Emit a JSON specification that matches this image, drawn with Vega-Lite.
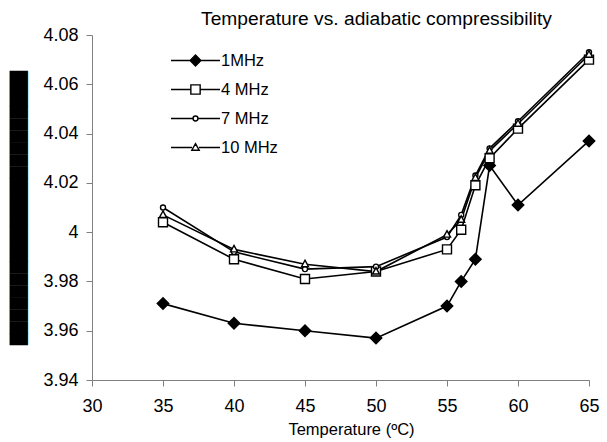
{
  "$schema": "https://vega.github.io/schema/vega-lite/v6.json",
  "width": 497,
  "height": 345,
  "autosize": "none",
  "padding": {"left": 92, "top": 35, "right": 18, "bottom": 62},
  "background": "white",
  "title": {
    "text": "Temperature vs. adiabatic compressibility",
    "font": "Liberation Sans",
    "fontSize": 19.2,
    "fontWeight": "normal",
    "color": "black",
    "anchor": "middle",
    "frame": "group",
    "dx": 36,
    "baseline": "alphabetic",
    "offset": -18
  },
  "config": {
    "view": {"stroke": null},
    "font": "Liberation Sans"
  },
  "data": {
    "values": [
      {"t": 35, "v": 3.971, "s": "1MHz"},
      {"t": 40, "v": 3.963, "s": "1MHz"},
      {"t": 45, "v": 3.960, "s": "1MHz"},
      {"t": 50, "v": 3.957, "s": "1MHz"},
      {"t": 55, "v": 3.970, "s": "1MHz"},
      {"t": 56, "v": 3.980, "s": "1MHz"},
      {"t": 57, "v": 3.989, "s": "1MHz"},
      {"t": 58, "v": 4.027, "s": "1MHz"},
      {"t": 60, "v": 4.011, "s": "1MHz"},
      {"t": 65, "v": 4.037, "s": "1MHz"},
      {"t": 35, "v": 4.004, "s": "4 MHz"},
      {"t": 40, "v": 3.989, "s": "4 MHz"},
      {"t": 45, "v": 3.981, "s": "4 MHz"},
      {"t": 50, "v": 3.984, "s": "4 MHz"},
      {"t": 55, "v": 3.993, "s": "4 MHz"},
      {"t": 56, "v": 4.001, "s": "4 MHz"},
      {"t": 57, "v": 4.019, "s": "4 MHz"},
      {"t": 58, "v": 4.030, "s": "4 MHz"},
      {"t": 60, "v": 4.042, "s": "4 MHz"},
      {"t": 65, "v": 4.070, "s": "4 MHz"},
      {"t": 35, "v": 4.010, "s": "7 MHz"},
      {"t": 40, "v": 3.992, "s": "7 MHz"},
      {"t": 45, "v": 3.985, "s": "7 MHz"},
      {"t": 50, "v": 3.986, "s": "7 MHz"},
      {"t": 55, "v": 3.998, "s": "7 MHz"},
      {"t": 56, "v": 4.007, "s": "7 MHz"},
      {"t": 57, "v": 4.023, "s": "7 MHz"},
      {"t": 58, "v": 4.034, "s": "7 MHz"},
      {"t": 60, "v": 4.045, "s": "7 MHz"},
      {"t": 65, "v": 4.073, "s": "7 MHz"},
      {"t": 35, "v": 4.007, "s": "10 MHz"},
      {"t": 40, "v": 3.993, "s": "10 MHz"},
      {"t": 45, "v": 3.987, "s": "10 MHz"},
      {"t": 50, "v": 3.984, "s": "10 MHz"},
      {"t": 55, "v": 3.999, "s": "10 MHz"},
      {"t": 56, "v": 4.005, "s": "10 MHz"},
      {"t": 57, "v": 4.022, "s": "10 MHz"},
      {"t": 58, "v": 4.033, "s": "10 MHz"},
      {"t": 60, "v": 4.044, "s": "10 MHz"},
      {"t": 65, "v": 4.072, "s": "10 MHz"}
    ]
  },
  "encoding": {
    "x": {
      "field": "t",
      "type": "quantitative",
      "scale": {"domain": [30, 65], "nice": false, "zero": false},
      "axis": {
        "values": [30, 35, 40, 45, 50, 55, 60, 65],
        "title": "Temperature (ºC)",
        "titleFont": "Liberation Sans",
        "titleFontSize": 16.5,
        "titleFontWeight": "normal",
        "titleColor": "black",
        "titlePadding": 6,
        "titleX": 259,
        "labelFont": "Liberation Sans",
        "labelFontSize": 18,
        "labelColor": "black",
        "labelPadding": 11,
        "labelFlush": false,
        "tickSize": 6,
        "tickColor": "#808080",
        "domainColor": "#808080",
        "grid": false
      }
    },
    "y": {
      "field": "v",
      "type": "quantitative",
      "scale": {"domain": [3.94, 4.08], "nice": false, "zero": false},
      "axis": {
        "values": [3.94, 3.96, 3.98, 4.0, 4.02, 4.04, 4.06, 4.08],
        "format": ".2~f",
        "title": "███████████████████████",
        "titleFont": "DejaVu Sans",
        "titleFontSize": 15.5,
        "titleFontWeight": "normal",
        "titleColor": "black",
        "titlePadding": 16,
        "labelFont": "Liberation Sans",
        "labelFontSize": 18,
        "labelColor": "black",
        "labelPadding": 8,
        "labelFlush": false,
        "tickSize": 6,
        "tickColor": "#808080",
        "domainColor": "#808080",
        "grid": false
      }
    }
  },
  "layer": [
    {
      "mark": {"type": "line", "color": "black", "strokeWidth": 1.6},
      "encoding": {"detail": {"field": "s"}}
    },
    {
      "mark": {"type": "point", "filled": false, "stroke": "black", "strokeWidth": 1.4, "size": 100, "opacity": 1},
      "encoding": {
        "shape": {
          "field": "s",
          "type": "nominal",
          "scale": {
            "domain": ["1MHz", "4 MHz", "7 MHz", "10 MHz"],
            "range": [
              "M-1.15,0L0,-1.15L1.15,0L0,1.15Z",
              "M-0.9,-0.9H0.9V0.9H-0.9Z",
              "M-0.5,0A0.5,0.5 0 1,0 0.5,0A0.5,0.5 0 1,0 -0.5,0Z",
              "M0,-0.8L0.7,0.5L-0.7,0.5Z"
            ]
          },
          "legend": null
        },
        "fill": {
          "field": "s",
          "type": "nominal",
          "scale": {
            "domain": ["1MHz", "4 MHz", "7 MHz", "10 MHz"],
            "range": ["black", "white", "white", "white"]
          },
          "legend": null
        }
      }
    },
    {
      "transform": [{"filter": "false"}],
      "mark": {"type": "point", "filled": false, "strokeWidth": 1.4, "opacity": 1},
      "encoding": {
        "shape": {
          "field": "s",
          "type": "nominal",
          "scale": {
            "domain": ["1MHz", "4 MHz", "7 MHz", "10 MHz"],
            "range": [
              "M-1,0H1M-0.22,0L0,-0.22L0.22,0L0,0.22Z",
              "M-1,0H-0.19M0.19,0H1M-0.19,-0.19H0.19V0.19H-0.19Z",
              "M-1,0H-0.1M0.1,0H1M-0.1,0A0.1,0.1 0 1,0 0.1,0A0.1,0.1 0 1,0 -0.1,0Z",
              "M-1,0H-0.14M0.14,0H1M0,-0.16L0.15,0.11L-0.15,0.11Z"
            ]
          },
          "legend": {
            "title": null,
            "orient": "none",
            "legendX": 78,
            "legendY": 11,
            "symbolSize": 2401,
            "symbolStrokeWidth": 1.4,
            "labelFont": "Liberation Sans",
            "labelFontSize": 16.5,
            "labelColor": "black",
            "labelOffset": 0,
            "clipHeight": 29,
            "rowPadding": 0
          }
        },
        "fill": {
          "field": "s",
          "type": "nominal",
          "scale": {
            "domain": ["1MHz", "4 MHz", "7 MHz", "10 MHz"],
            "range": ["black", "white", "white", "white"]
          },
          "legend": {
            "title": null,
            "orient": "none",
            "legendX": 78,
            "legendY": 11,
            "symbolSize": 2401,
            "symbolStrokeWidth": 1.4,
            "labelFont": "Liberation Sans",
            "labelFontSize": 16.5,
            "labelColor": "black",
            "labelOffset": 0,
            "clipHeight": 29,
            "rowPadding": 0
          }
        },
        "stroke": {
          "field": "s",
          "type": "nominal",
          "scale": {
            "domain": ["1MHz", "4 MHz", "7 MHz", "10 MHz"],
            "range": ["black", "black", "black", "black"]
          },
          "legend": {
            "title": null,
            "orient": "none",
            "legendX": 78,
            "legendY": 11,
            "symbolSize": 2401,
            "symbolStrokeWidth": 1.4,
            "labelFont": "Liberation Sans",
            "labelFontSize": 16.5,
            "labelColor": "black",
            "labelOffset": 0,
            "clipHeight": 29,
            "rowPadding": 0
          }
        }
      }
    }
  ],
  "resolve": {
    "scale": {"shape": "independent", "fill": "independent", "stroke": "independent"},
    "legend": {"shape": "independent", "fill": "independent", "stroke": "independent"}
  }
}
